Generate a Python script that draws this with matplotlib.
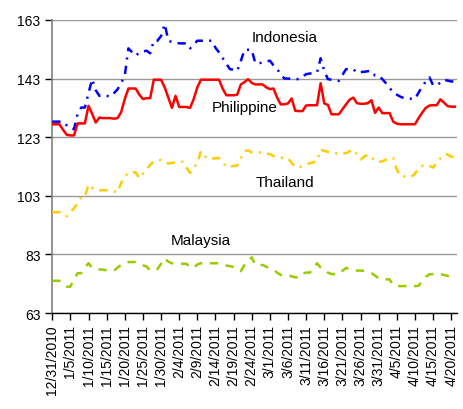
import matplotlib
matplotlib.use("Agg")
import matplotlib.pyplot as plt
import numpy as np

plt.rcParams['font.family'] = ['Liberation Sans', 'DejaVu Sans']
plt.rcParams['lines.scale_dashes'] = False

# day offsets from 12/31/2010
days = list(range(112))

philippine = [127.4, 127.4, 127.4, 125.5, 123.8, 123.6, 123.6, 127.7, 127.7, 127.7,
              133.7, 131.0, 128.0, 129.7, 129.5, 129.5, 129.5, 129.3, 129.5, 131.5,
              136.0, 139.6, 139.6, 139.6, 137.5, 136.0, 136.3, 136.3, 142.6, 142.6,
              142.6, 140.0, 136.5, 133.0, 137.1, 133.3, 133.3, 133.3, 133.0, 136.0,
              140.0, 142.6, 142.6, 142.6, 142.6, 142.6, 142.6, 139.5, 137.3, 137.3,
              137.3, 137.5, 141.0, 141.8, 142.8, 141.5, 141.0, 141.0, 141.0, 140.0,
              139.4, 139.6, 136.5, 134.2, 134.2, 134.5, 136.2, 132.0, 131.9, 131.9,
              133.8, 133.9, 133.9, 133.9, 141.4, 134.5, 134.0, 130.8, 130.8, 130.8,
              132.5, 134.2, 135.8, 136.5, 134.6, 134.4, 134.4, 134.6, 135.6, 131.3,
              133.1, 131.2, 131.2, 131.2, 128.3, 127.6, 127.4, 127.4, 127.4, 127.4,
              127.4, 129.5, 131.4, 133.0, 133.8, 133.9, 133.9, 135.9, 134.8, 133.6,
              133.4, 133.4]

indonesia = [128.3, 128.3, 128.3, 128.3, 127.0, 126.0, 125.7, 131.0, 133.1, 133.1,
             138.0, 142.8, 139.0, 137.1, 137.2, 137.1, 136.8, 138.0, 139.3, 141.5,
             144.0, 153.3, 152.0, 150.8, 151.8, 152.2, 152.5, 151.6, 155.9, 155.9,
             157.5, 161.6, 156.0, 155.4, 155.2, 155.0, 155.0, 155.0, 153.3, 154.6,
             155.9, 155.9, 155.9, 155.9, 155.9, 153.5, 151.9, 150.0, 148.0, 146.2,
             146.0, 145.6, 149.0, 152.8, 152.8, 152.8, 148.2, 148.2, 148.5, 148.8,
             149.1, 147.5, 146.2, 144.5, 143.0, 143.0, 142.9, 142.8, 142.8, 143.6,
             144.5, 144.7, 144.9, 145.1, 149.9, 145.6, 142.8, 142.6, 142.3, 142.2,
             144.2, 146.2, 146.2, 146.2, 145.0, 145.2, 145.3, 145.5, 145.6, 144.0,
             144.0, 142.8, 141.4, 139.8, 138.3, 137.5, 136.8, 136.3, 136.2, 136.1,
             136.0, 138.2, 140.3, 142.0, 143.4, 140.7, 140.7, 141.6, 142.6, 142.3,
             142.0, 142.0]

thailand = [97.4, 97.4, 97.4, 96.7, 96.0, 97.5, 98.7, 100.5, 102.6, 102.6,
            106.8, 105.7, 105.2, 104.9, 104.9, 104.9, 104.9, 104.5, 104.2, 107.4,
            109.5, 111.0, 111.0, 111.0, 109.0, 110.5, 112.0, 113.5, 114.8, 115.0,
            115.2, 114.6, 114.0, 114.2, 114.4, 114.5, 114.6, 112.7, 110.8, 112.5,
            114.3, 118.2, 116.5, 115.6, 115.7, 115.8, 115.9, 114.4, 112.9, 113.0,
            113.2, 113.3, 115.8, 118.2, 118.5, 117.8, 117.8, 117.8, 117.8, 117.5,
            117.2, 116.6, 116.2, 116.0, 115.9, 115.8, 114.2, 112.9, 112.6, 113.2,
            113.7, 114.1, 114.5, 114.8, 118.8, 118.3, 118.0, 117.5, 117.5, 117.5,
            117.5, 117.5, 118.2, 118.8, 117.2, 115.4, 116.3, 117.1, 116.0, 115.2,
            114.5, 114.8, 115.3, 115.7, 116.0, 112.0, 109.7, 109.6, 109.5, 109.5,
            110.5, 112.5, 113.2, 113.6, 113.2, 112.6, 114.3, 115.8, 117.0, 117.1,
            116.4, 116.0]

malaysia = [74.0, 74.0, 74.0, 73.0, 72.0, 72.0, 74.5, 76.6, 76.6, 78.5,
            80.0, 78.4, 78.1, 77.9, 77.8, 77.6, 77.5, 77.4, 78.5, 79.4,
            80.2, 80.4, 80.4, 80.4, 79.8, 79.3, 78.9, 77.5, 77.8, 78.0,
            79.8, 81.7, 80.5, 80.0, 79.8, 79.8, 79.8, 79.8, 78.7, 78.4,
            79.6, 80.0, 80.0, 80.0, 80.0, 80.0, 80.0, 79.6, 79.2, 79.0,
            78.7, 77.8, 77.3, 79.4, 81.0, 82.0, 79.4, 79.4, 79.4, 78.8,
            78.3, 77.8, 76.8, 76.0, 76.0, 76.0, 75.5, 75.2, 75.1, 76.5,
            76.8, 76.8, 78.0, 80.0, 78.5, 77.9, 76.8, 76.3, 76.3, 76.3,
            77.4, 78.4, 77.9, 77.5, 77.5, 77.5, 77.4, 76.8, 76.6, 75.8,
            74.8, 74.5, 74.5, 74.5, 72.5, 72.3, 72.2, 72.2, 72.2, 72.2,
            72.2, 72.3, 74.0, 75.4, 76.2, 76.3, 76.3, 76.3, 76.0, 75.7,
            75.5, 75.5]

tick_days = list(range(0, 111, 5))
tick_labels = ['12/31/2010', '1/5/2011', '1/10/2011', '1/15/2011', '1/20/2011',
               '1/25/2011', '1/30/2011', '2/4/2011', '2/9/2011', '2/14/2011',
               '2/19/2011', '2/24/2011', '3/1/2011', '3/6/2011', '3/11/2011',
               '3/16/2011', '3/21/2011', '3/26/2011', '3/31/2011', '4/5/2011',
               '4/10/2011', '4/15/2011', '4/20/2011']
y_ticks = [63, 83, 103, 123, 143, 163]

fig = plt.figure(figsize=(4.64, 4.10), dpi=100)
ax = fig.add_axes([0.111, 0.234, 0.874, 0.715])

lw = 1.8
dashdot = (0, (6, 4.5, 1.5, 4.5))
ax.plot(days, indonesia, color='#0000FF', lw=lw, linestyle=dashdot, zorder=3)
ax.plot(days, philippine, color='#FF0000', lw=lw, linestyle='-', zorder=3)
ax.plot(days, thailand, color='#FFCC00', lw=lw, linestyle=dashdot, zorder=3)
ax.plot(days, malaysia, color='#99CC00', lw=lw, linestyle=(0, (6, 5.5)), zorder=3)

ax.set_xlim(-0.2, 111.6)
ax.set_ylim(63, 163)
ax.set_yticks(y_ticks)
ax.set_xticks(tick_days)
ax.set_xticklabels(tick_labels, rotation=90, fontsize=10)
ax.tick_params(axis='y', labelsize=10, length=5, width=1, direction='out', pad=3)
ax.tick_params(axis='x', length=5, width=1, direction='out', pad=3)
ax.yaxis.grid(True, color='#999999', lw=1)
ax.set_axisbelow(True)
for s in ['top', 'right']:
    ax.spines[s].set_visible(False)
ax.spines['left'].set_color('#808080')
ax.spines['left'].set_linewidth(1.2)
ax.spines['bottom'].set_color('black')
ax.spines['bottom'].set_linewidth(1)

ax.text(55.0, 155.9, 'Indonesia', fontsize=11, ha='left', va='baseline')
ax.text(44.0, 131.8, 'Philippine', fontsize=11, ha='left', va='baseline')
ax.text(56.1, 106.3, 'Thailand', fontsize=11, ha='left', va='baseline')
ax.text(32.7, 86.6, 'Malaysia', fontsize=11, ha='left', va='baseline')

fig.savefig('out.png', dpi=100)
